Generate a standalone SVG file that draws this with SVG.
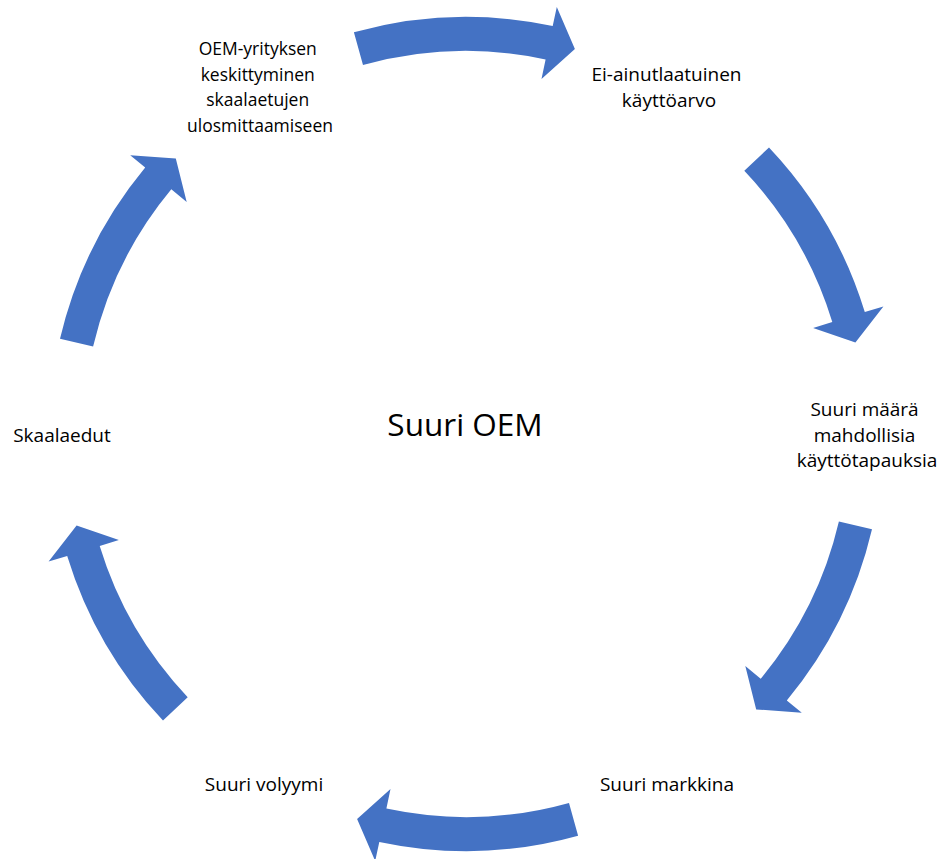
<svg xmlns="http://www.w3.org/2000/svg" width="944" height="859" viewBox="0 0 944 859">
  <style>
    .arrow { fill: #4472C4; stroke: none; }
    .label { font-family: "Open Sans", "Liberation Sans", sans-serif; font-size: 19px; fill: #000000; text-anchor: middle; }
    .small { font-size: 17.5px; }
    .title { font-family: "Open Sans", "Liberation Sans", sans-serif; font-size: 31.5px; fill: #000000; text-anchor: middle; }
  </style>
  <rect width="944" height="859" fill="#ffffff"/>

  <!-- Curved block arrows on a ring centred at (466,434), mid radius 400 -->
  <g id="connectors">
    <path class="arrow" d="M353.9,32.3 A417,417 0 0 1 552.7,26.1 L556.8,7.0 L574.9,49.1 L541.5,78.9 L545.6,59.4 A383,383 0 0 0 363.0,65.1 Z"/>
    <path class="arrow" d="M769.0,147.5 A417,417 0 0 1 864.8,312.1 L883.4,306.4 L855.4,342.6 L813.1,327.9 L832.3,322.0 A383,383 0 0 0 744.3,170.8 Z"/>
    <path class="arrow" d="M872.0,529.2 A417,417 0 0 1 786.8,700.4 L801.8,712.8 L756.2,709.4 L745.3,665.9 L760.7,678.7 A383,383 0 0 0 838.9,521.5 Z"/>
    <path class="arrow" d="M578.1,835.7 A417,417 0 0 1 379.3,841.9 L375.2,861.0 L357.1,818.9 L390.5,789.1 L386.4,808.6 A383,383 0 0 0 569.0,802.9 Z"/>
    <path class="arrow" d="M163.0,720.5 A417,417 0 0 1 67.2,555.9 L48.6,561.6 L76.6,525.4 L118.9,540.1 L99.7,546.0 A383,383 0 0 0 187.7,697.2 Z"/>
    <path class="arrow" d="M60.0,338.8 A417,417 0 0 1 145.2,167.6 L130.2,155.2 L175.8,158.6 L186.7,202.1 L171.3,189.3 A383,383 0 0 0 93.1,346.5 Z"/>
  </g>

  <g id="center">
    <text class="title" x="465" y="436">Suuri OEM</text>
  </g>

  <g id="node-oem-focus">
    <text class="label small" x="260">
      <tspan x="260" y="55">OEM-yrityksen</tspan>
      <tspan x="260" y="80.5">keskittyminen</tspan>
      <tspan x="260" y="106">skaalaetujen</tspan>
      <tspan x="260" y="131.5">ulosmittaamiseen</tspan>
    </text>
  </g>

  <g id="node-value">
    <text class="label" x="669">
      <tspan x="669" y="81">Ei-ainutlaatuinen</tspan>
      <tspan x="669" y="106.5">käyttöarvo</tspan>
    </text>
  </g>

  <g id="node-usecases">
    <text class="label" x="867">
      <tspan x="867" y="416">Suuri määrä</tspan>
      <tspan x="867" y="441.5">mahdollisia</tspan>
      <tspan x="867" y="467">käyttötapauksia</tspan>
    </text>
  </g>

  <g id="node-market">
    <text class="label" x="667" y="791">Suuri markkina</text>
  </g>

  <g id="node-volume">
    <text class="label" x="264" y="791">Suuri volyymi</text>
  </g>

  <g id="node-scale">
    <text class="label" x="62" y="442">Skaalaedut</text>
  </g>
</svg>
